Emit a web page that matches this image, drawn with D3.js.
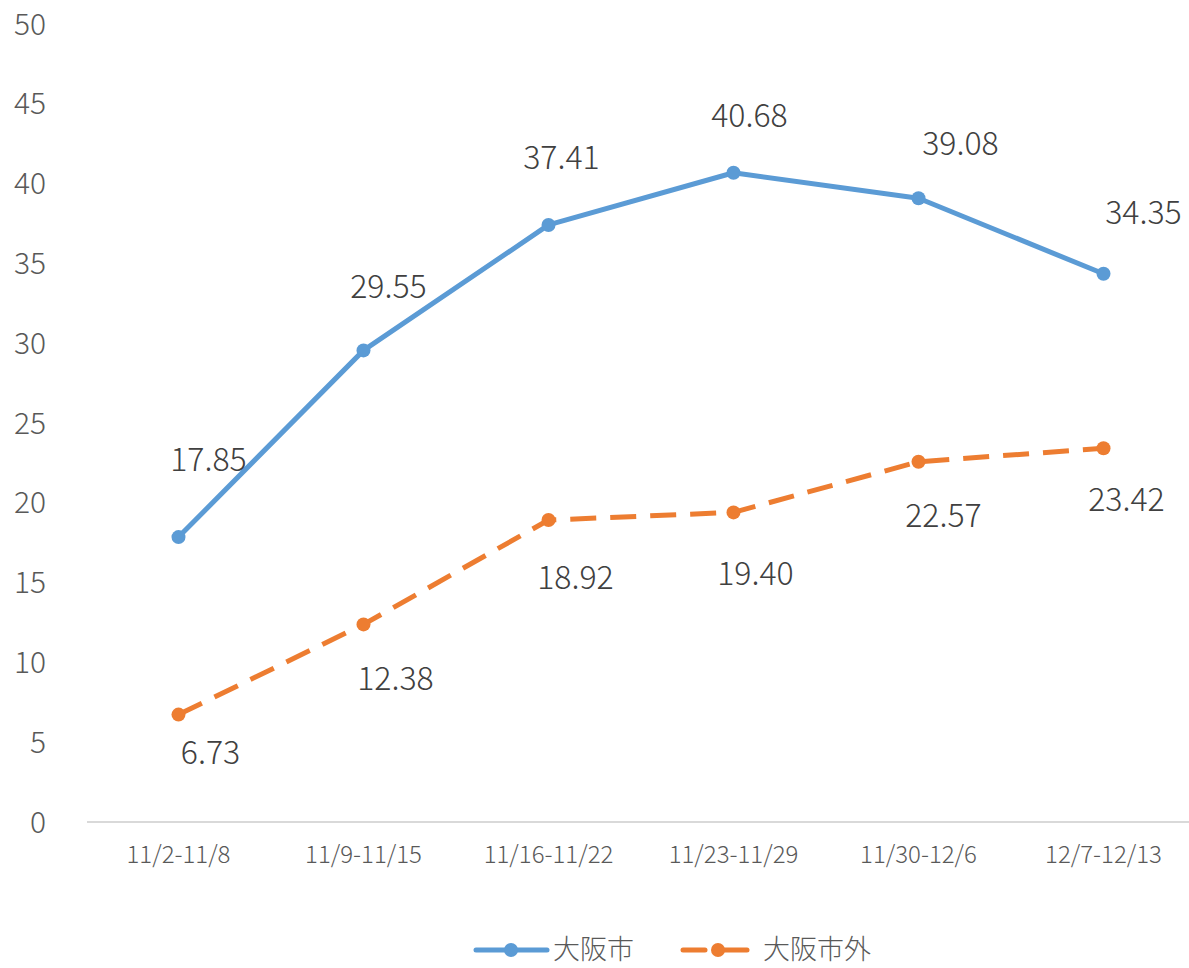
<!DOCTYPE html>
<html><head><meta charset="utf-8">
<script src="https://cdn.jsdelivr.net/npm/d3@7"></script>
<style>
body{margin:0;background:#fff;}
svg{display:block;font-family:"Noto Sans CJK JP","Noto Sans",sans-serif;}
</style></head><body>
<svg id="chart" width="1189" height="968"></svg>
<script>
const categories = ["11/2-11/8","11/9-11/15","11/16-11/22","11/23-11/29","11/30-12/6","12/7-12/13"];
const osakaCity = [17.85,29.55,37.41,40.68,39.08,34.35];
const osakaOutside = [6.73,12.38,18.92,19.40,22.57,23.42];
const seriesNames = ["大阪市","大阪市外"];
const yTicks = [0,5,10,15,20,25,30,35,40,45,50];
// label offsets (dx, dy) relative to point
const cityLabelOffset = [[30,-77],[25,-64],[13,-67],[16,-57],[42,-54],[40,-61]];
const outsideLabelOffset = [[32,38],[32,54],[27,58],[22,61],[25,54],[23,52]];

const svg = d3.select("#chart");
const x = d3.scalePoint().domain(categories).range([86,1196]).padding(0.5);
const y = d3.scaleLinear().domain([0,50]).range([822,24]);
const blue = "#5B9BD5", orange = "#ED7D31";

// x axis line
svg.append("line").attr("x1",87).attr("x2",1189).attr("y1",y(0)).attr("y2",y(0))
  .attr("stroke","#d9d9d9").attr("stroke-width",2);

// y tick labels
svg.append("g").selectAll("text").data(yTicks).join("text")
  .attr("x",46).attr("y",d=>y(d)).attr("dy","0.35em").attr("text-anchor","end")
  .attr("font-size",30).attr("font-weight",300).attr("fill","#595959").text(d=>d);

// x tick labels
svg.append("g").selectAll("text").data(categories).join("text")
  .attr("x",d=>x(d)).attr("y",855).attr("dy","0.35em").attr("text-anchor","middle")
  .attr("font-size",24).attr("font-weight",300).attr("fill","#595959").text(d=>d);

const line = d3.line().x((d,i)=>x(categories[i])).y(d=>y(d));

function drawSeries(vals,color,dash,offsets){
  const g = svg.append("g");
  g.append("path").datum(vals).attr("d",line).attr("fill","none")
    .attr("stroke",color).attr("stroke-width",5).attr("stroke-linejoin","round")
    .attr("stroke-linecap",dash?"butt":"round")
    .attr("stroke-dasharray",dash?"26,14":null);
  g.selectAll("circle").data(vals).join("circle")
    .attr("cx",(d,i)=>x(categories[i])).attr("cy",d=>y(d)).attr("r",7).attr("fill",color);
  g.selectAll("text").data(vals).join("text")
    .attr("x",(d,i)=>x(categories[i])+offsets[i][0]).attr("y",(d,i)=>y(d)+offsets[i][1])
    .attr("dy","0.35em").attr("text-anchor","middle").attr("font-size",32).attr("font-weight",300)
    .attr("fill","#404040").text(d=>d.toFixed(2));
}
drawSeries(osakaCity,blue,false,cityLabelOffset);
drawSeries(osakaOutside,orange,true,outsideLabelOffset);

// legend
const legend = [{name:seriesNames[0],color:blue,dash:false,x0:476},{name:seriesNames[1],color:orange,dash:true,x0:683}];
const lg = svg.append("g");
legend.forEach(l=>{
  const ly = 950;
  if(l.dash){
    lg.append("line").attr("x1",l.x0).attr("x2",l.x0+22).attr("y1",ly).attr("y2",ly).attr("stroke",l.color).attr("stroke-width",5).attr("stroke-linecap","round");
    lg.append("line").attr("x1",l.x0+38).attr("x2",l.x0+64).attr("y1",ly).attr("y2",ly).attr("stroke",l.color).attr("stroke-width",5).attr("stroke-linecap","round");
  } else {
    lg.append("line").attr("x1",l.x0).attr("x2",l.x0+71).attr("y1",ly).attr("y2",ly).attr("stroke",l.color).attr("stroke-width",5).attr("stroke-linecap","round");
  }
  lg.append("circle").attr("cx",l.x0+35).attr("cy",ly).attr("r",7).attr("fill",l.color);
  lg.append("text").attr("x",l.x0+(l.dash?80:77)).attr("y",ly).attr("dy","0.35em")
    .attr("font-size",27).attr("font-weight",300).attr("fill","#595959").text(l.name);
});
</script></body></html>
